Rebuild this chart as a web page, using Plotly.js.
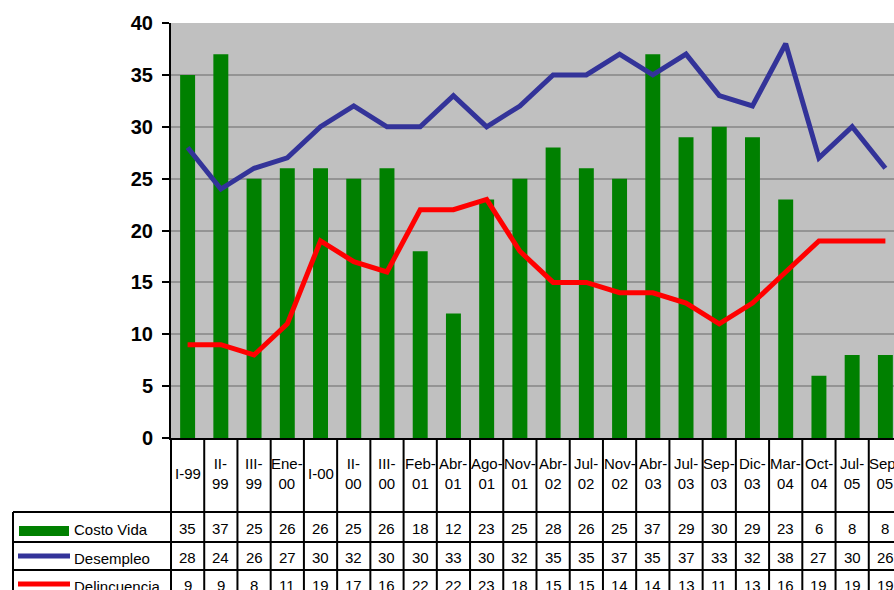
<!DOCTYPE html>
<html>
<head>
<meta charset="utf-8">
<script src="https://cdn.plot.ly/plotly-3.0.1.min.js"></script>
<style>
html,body{margin:0;padding:0;background:#fff;overflow:hidden;}
#chart{width:920px;height:620px;}
</style>
</head>
<body>
<div id="chart"></div>
<script>
// ---- data ----
const categories = ["I-99","II-99","III-99","Ene-00","I-00","II-00","III-00","Feb-01","Abr-01","Ago-01","Nov-01","Abr-02","Jul-02","Nov-02","Abr-03","Jul-03","Sep-03","Dic-03","Mar-04","Oct-04","Jul-05","Sep-05"];
const costoVida = [35,37,25,26,26,25,26,18,12,23,25,28,26,25,37,29,30,29,23,6,8,8];
const desempleo = [28,24,26,27,30,32,30,30,33,30,32,35,35,37,35,37,33,32,38,27,30,26];
const delincuencia = [9,9,8,11,19,17,16,22,22,23,18,15,15,14,14,13,11,13,16,19,19,19];
const seriesNames = ["Costo Vida","Desempleo","Delincuencia"];
const yTicks = [0,5,10,15,20,25,30,35,40];

// ---- geometry (pixels) ----
const W = 920, H = 620;
const L = 171, R = 902, T = 23, B = 438;
const px2x = px => (px - L) / (R - L);
const py2y = py => (B - py) / (B - T);
const FONT = "Liberation Sans, Arial, Helvetica, sans-serif";

const idx = categories.map((_, i) => i);
const traces = [
  {type:"bar", x: idx, y: costoVida, name: seriesNames[0], marker:{color:"#008000"}, hoverinfo:"skip"},
  {type:"scatter", mode:"lines", x: idx, y: desempleo, name: seriesNames[1], line:{color:"#333399", width:5}, hoverinfo:"skip", cliponaxis:false},
  {type:"scatter", mode:"lines", x: idx, y: delincuencia, name: seriesNames[2], line:{color:"#FF0000", width:5}, hoverinfo:"skip", cliponaxis:false}
];

const shapes = [];
const annotations = [];
const lineStyle = {color:"#000", width:2};

// table rows (pixel y)
const rowTops = [512, 542, 570, 600];
const headerTop = B;
const tableBottom = 600;
const tableLeft = 13;

// horizontal lines
rowTops.forEach(py => {
  shapes.push({type:"line", xref:"paper", yref:"paper", x0:px2x(tableLeft), x1:1, y0:py2y(py), y1:py2y(py), line:lineStyle, layer:"above"});
});
// left border of legend column
shapes.push({type:"line", xref:"paper", yref:"paper", x0:px2x(tableLeft), x1:px2x(tableLeft), y0:py2y(rowTops[0]), y1:py2y(tableBottom), line:lineStyle});
// left border of category columns
shapes.push({type:"line", xref:"paper", yref:"paper", x0:0, x1:0, y0:py2y(headerTop), y1:py2y(tableBottom), line:lineStyle});
// category boundaries
for (let i = 1; i <= categories.length; i++) {
  shapes.push({type:"line", xref:"x", yref:"paper", x0:i-0.5, x1:i-0.5, y0:py2y(headerTop), y1:py2y(tableBottom), line:lineStyle});
}

// header labels
categories.forEach((c, i) => {
  const txt = c.length > 4 ? c.replace("-", "-<br>") : c;
  annotations.push({xref:"x", yref:"paper", x:i, y:py2y(473), text:txt, showarrow:false, xanchor:"center", yanchor:"middle", font:{family:FONT, size:15, color:"#000"}});
});

// data values
const rowCenters = [528, 557, 585];
[costoVida, desempleo, delincuencia].forEach((arr, r) => {
  arr.forEach((v, i) => {
    annotations.push({xref:"x", yref:"paper", x:i, y:py2y(rowCenters[r]), text:String(v), showarrow:false, xanchor:"center", yanchor:"middle", font:{family:FONT, size:15, color:"#000"}});
  });
  annotations.push({xref:"paper", yref:"paper", x:px2x(72), y:py2y(rowCenters[r] + 1), text:seriesNames[r], showarrow:false, xanchor:"left", yanchor:"middle", font:{family:FONT, size:15, color:"#000"}});
});

// legend keys
shapes.push({type:"rect", xref:"paper", yref:"paper", x0:px2x(19), x1:px2x(69), y0:py2y(526), y1:py2y(536), fillcolor:"#008000", line:{width:0}});
shapes.push({type:"line", xref:"paper", yref:"paper", x0:px2x(18), x1:px2x(70), y0:py2y(556), y1:py2y(556), line:{color:"#333399", width:5}});
shapes.push({type:"line", xref:"paper", yref:"paper", x0:px2x(18), x1:px2x(70), y0:py2y(584), y1:py2y(584), line:{color:"#FF0000", width:5}});

const layout = {
  width: W, height: H,
  margin: {l:L, r:W-R, t:T, b:H-B, pad:0},
  paper_bgcolor: "#ffffff",
  plot_bgcolor: "#C0C0C0",
  showlegend: false,
  bargap: 0.55,
  xaxis: {range:[-0.5, categories.length-0.5], showticklabels:false, ticks:"", showgrid:false, zeroline:false, showline:true, linecolor:"#000", linewidth:2, fixedrange:true},
  yaxis: {range:[0,40], tickvals:yTicks, ticktext:yTicks.map(String), showgrid:true, gridcolor:"#949494", gridwidth:2, zeroline:false,
          showline:true, linecolor:"#000", linewidth:2, ticks:"outside", ticklen:7, tickwidth:2, tickcolor:"#000",
          ticklabelstandoff:5, tickfont:{family:FONT, size:20, color:"#000", weight:"bold"}, fixedrange:true},
  shapes: shapes,
  annotations: annotations
};

Plotly.newPlot("chart", traces, layout, {displayModeBar:false, staticPlot:true});
</script>
</body>
</html>
